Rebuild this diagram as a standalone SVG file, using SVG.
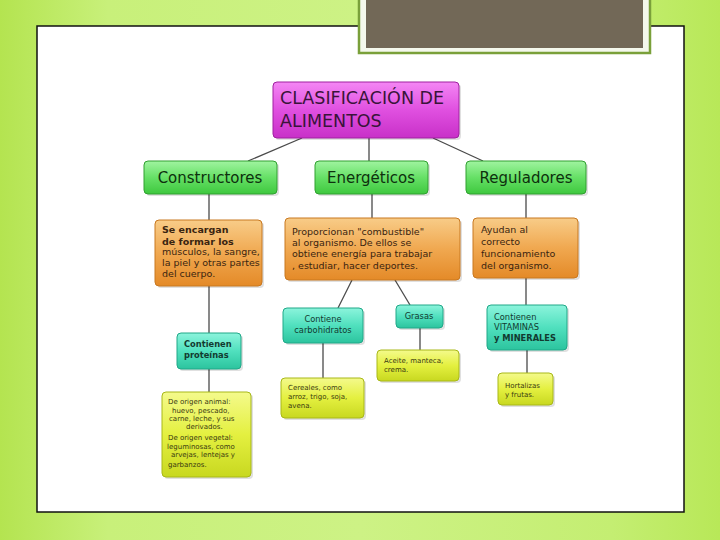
<svg xmlns="http://www.w3.org/2000/svg" width="720" height="540" viewBox="0 0 720 540">
<defs>
<linearGradient id="bg" x1="0" y1="0" x2="1" y2="0">
<stop offset="0" stop-color="#b4e450"/>
<stop offset="0.15" stop-color="#c8f07a"/>
<stop offset="0.5" stop-color="#cdf285"/>
<stop offset="0.85" stop-color="#c4ee72"/>
<stop offset="1" stop-color="#b8e858"/>
</linearGradient>
<linearGradient id="gT" x1="0" y1="0" x2="0" y2="1">
<stop offset="0" stop-color="#f486f4"/>
<stop offset="0.5" stop-color="#e050e0"/>
<stop offset="1" stop-color="#c830c8"/>
</linearGradient>
<linearGradient id="gG" x1="0" y1="0" x2="0" y2="1">
<stop offset="0" stop-color="#a0f4a0"/>
<stop offset="0.5" stop-color="#66e066"/>
<stop offset="1" stop-color="#3ec83e"/>
</linearGradient>
<linearGradient id="gO" x1="0" y1="0" x2="0" y2="1">
<stop offset="0" stop-color="#f8cc88"/>
<stop offset="0.5" stop-color="#f0a850"/>
<stop offset="1" stop-color="#e48a28"/>
</linearGradient>
<linearGradient id="gC" x1="0" y1="0" x2="0" y2="1">
<stop offset="0" stop-color="#8cf4dc"/>
<stop offset="0.5" stop-color="#50e0be"/>
<stop offset="1" stop-color="#2cc49e"/>
</linearGradient>
<linearGradient id="gY" x1="0" y1="0" x2="0" y2="1">
<stop offset="0" stop-color="#f4fa8c"/>
<stop offset="0.5" stop-color="#e4f040"/>
<stop offset="1" stop-color="#c8d820"/>
</linearGradient>
</defs>
<style>
text{font-family:"DejaVu Sans","Liberation Sans",sans-serif;}
.box{stroke-width:1;}
.t{fill:url(#gT);stroke:#a020a0;}
.g{fill:url(#gG);stroke:#30a030;}
.o{fill:url(#gO);stroke:#c87820;}
.c{fill:url(#gC);stroke:#20a888;}
.y{fill:url(#gY);stroke:#a8b818;}
.sh{fill:#000;opacity:0.12;}
.ln{stroke:#4a4a4a;stroke-width:1.3;fill:none;}
.tt{font-size:17.5px;fill:#3a143a;}
.tg{font-size:15px;fill:#0e300e;text-anchor:middle;}
.to{font-size:9.5px;fill:#3a2410;}
.tc{font-size:8.3px;fill:#123a30;}
.ty{font-size:7px;fill:#3a3a10;}
</style>
<rect x="0" y="0" width="720" height="540" fill="url(#bg)"/>
<rect x="37" y="26" width="647" height="486" fill="#ffffff" stroke="#111" stroke-width="1.5"/>
<rect x="359" y="-2" width="291" height="55" fill="#f4f8ec" stroke="#7aa03a" stroke-width="2.5"/>
<rect x="366" y="-2" width="277" height="50" fill="#726857"/>

<g id="connectors">
<line class="ln" x1="302" y1="138" x2="248" y2="161"/>
<line class="ln" x1="369" y1="138" x2="369" y2="161"/>
<line class="ln" x1="433" y1="138" x2="483" y2="161"/>
<line class="ln" x1="209" y1="194" x2="209" y2="220"/>
<line class="ln" x1="372" y1="194" x2="372" y2="218"/>
<line class="ln" x1="526" y1="194" x2="526" y2="218"/>
<line class="ln" x1="209" y1="286" x2="209" y2="333"/>
<line class="ln" x1="352" y1="280" x2="338" y2="308"/>
<line class="ln" x1="395" y1="280" x2="410" y2="305"/>
<line class="ln" x1="526" y1="278" x2="526" y2="305"/>
<line class="ln" x1="209" y1="369" x2="209" y2="392"/>
<line class="ln" x1="323" y1="343" x2="323" y2="378"/>
<line class="ln" x1="420" y1="328" x2="420" y2="350"/>
<line class="ln" x1="527" y1="350" x2="527" y2="373"/>
</g>

<g id="title">
<rect class="sh" x="275" y="84" width="186" height="56" rx="4"/>
<rect class="box t" x="273" y="82" width="186" height="56" rx="4"/>
<text class="tt" x="280" y="104">CLASIFICACIÓN DE</text>
<text class="tt" x="280" y="127">ALIMENTOS</text>
</g>

<g id="constructores">
<rect class="sh" x="146" y="163" width="133" height="33" rx="4"/>
<rect class="box g" x="144" y="161" width="133" height="33" rx="4"/>
<text class="tg" x="210" y="183">Constructores</text>
</g>
<g id="energeticos">
<rect class="sh" x="317" y="163" width="113" height="33" rx="4"/>
<rect class="box g" x="315" y="161" width="113" height="33" rx="4"/>
<text class="tg" x="371" y="183">Energéticos</text>
</g>
<g id="reguladores">
<rect class="sh" x="468" y="163" width="120" height="33" rx="4"/>
<rect class="box g" x="466" y="161" width="120" height="33" rx="4"/>
<text class="tg" x="526" y="183">Reguladores</text>
</g>

<g id="o1">
<rect class="sh" x="157" y="222" width="107" height="66" rx="4"/>
<rect class="box o" x="155" y="220" width="107" height="66" rx="4"/>
<text class="to" font-size="8.5" x="162" y="233" font-weight="bold">Se encargan</text>
<text class="to" font-size="8.5" x="162" y="245" font-weight="bold">de formar los</text>
<text class="to" font-size="8.5" x="162" y="255">músculos, la sangre,</text>
<text class="to" font-size="8.5" x="162" y="266">la piel y otras partes</text>
<text class="to" font-size="8.5" x="162" y="277">del cuerpo.</text>
</g>
<g id="o2">
<rect class="sh" x="287" y="220" width="175" height="62" rx="4"/>
<rect class="box o" x="285" y="218" width="175" height="62" rx="4"/>
<text class="to" x="292" y="235">Proporcionan "combustible"</text>
<text class="to" x="292" y="246">al organismo. De ellos se</text>
<text class="to" x="292" y="257">obtiene energía para trabajar</text>
<text class="to" x="292" y="269">, estudiar, hacer deportes.</text>
</g>
<g id="o3">
<rect class="sh" x="475" y="220" width="105" height="60" rx="4"/>
<rect class="box o" x="473" y="218" width="105" height="60" rx="4"/>
<text class="to" x="481" y="233">Ayudan al</text>
<text class="to" x="481" y="245">correcto</text>
<text class="to" x="481" y="257">funcionamiento</text>
<text class="to" x="481" y="269">del organismo.</text>
</g>

<g id="c1">
<rect class="sh" x="179" y="335" width="64" height="36" rx="4"/>
<rect class="box c" x="177" y="333" width="64" height="36" rx="4"/>
<text class="tc" x="184" y="347" font-weight="bold">Contienen</text>
<text class="tc" x="184" y="358" font-weight="bold">proteínas</text>
</g>
<g id="c2">
<rect class="sh" x="285" y="310" width="80" height="35" rx="4"/>
<rect class="box c" x="283" y="308" width="80" height="35" rx="4"/>
<text class="tc" x="323" y="322" text-anchor="middle">Contiene</text>
<text class="tc" x="323" y="333" text-anchor="middle">carbohidratos</text>
</g>
<g id="c3">
<rect class="sh" x="398" y="307" width="47" height="23" rx="4"/>
<rect class="box c" x="396" y="305" width="47" height="23" rx="4"/>
<text class="tc" x="419" y="319" text-anchor="middle">Grasas</text>
</g>
<g id="c4">
<rect class="sh" x="489" y="307" width="80" height="45" rx="4"/>
<rect class="box c" x="487" y="305" width="80" height="45" rx="4"/>
<text class="tc" x="494" y="320">Contienen</text>
<text class="tc" x="494" y="330">VITAMINAS</text>
<text class="tc" x="494" y="341" font-weight="bold">y MINERALES</text>
</g>

<g id="y1">
<rect class="sh" x="164" y="394" width="89" height="85" rx="4"/>
<rect class="box y" x="162" y="392" width="89" height="85" rx="4"/>
<text class="ty" x="168" y="404">De origen animal:</text>
<text class="ty" x="172" y="413">huevo, pescado,</text>
<text class="ty" x="169" y="421">carne, leche, y sus</text>
<text class="ty" x="186" y="429">derivados.</text>
<text class="ty" x="168" y="440">De origen vegetal:</text>
<text class="ty" x="167" y="449">leguminosas, como</text>
<text class="ty" x="171" y="457">arvejas, lentejas y</text>
<text class="ty" x="168" y="467">garbanzos.</text>
</g>
<g id="y2">
<rect class="sh" x="283" y="380" width="83" height="40" rx="4"/>
<rect class="box y" x="281" y="378" width="83" height="40" rx="4"/>
<text class="ty" x="288" y="390">Cereales, como</text>
<text class="ty" x="288" y="399">arroz, trigo, soja,</text>
<text class="ty" x="288" y="408">avena.</text>
</g>
<g id="y3">
<rect class="sh" x="379" y="352" width="82" height="31" rx="4"/>
<rect class="box y" x="377" y="350" width="82" height="31" rx="4"/>
<text class="ty" font-size="7.8" x="384" y="363">Aceite, manteca,</text>
<text class="ty" font-size="7.8" x="384" y="372">crema.</text>
</g>
<g id="y4">
<rect class="sh" x="500" y="375" width="55" height="32" rx="4"/>
<rect class="box y" x="498" y="373" width="55" height="32" rx="4"/>
<text class="ty" x="505" y="388">Hortalizas</text>
<text class="ty" x="505" y="397">y frutas.</text>
</g>
</svg>
